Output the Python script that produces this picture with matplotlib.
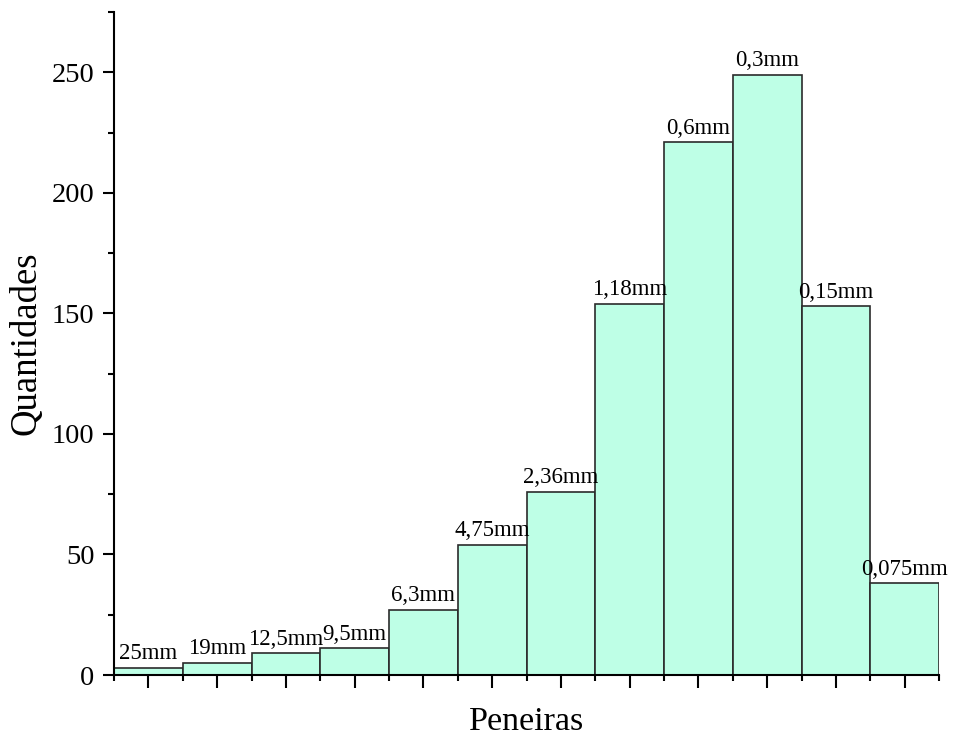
import matplotlib
matplotlib.use("Agg")
import matplotlib.pyplot as plt
from matplotlib.ticker import MultipleLocator, FixedLocator
import numpy as np

# Sieve openings and retained quantities
peneiras = ["25mm", "19mm", "12,5mm", "9,5mm", "6,3mm", "4,75mm", "2,36mm",
            "1,18mm", "0,6mm", "0,3mm", "0,15mm", "0,075mm"]
quantidades = [3, 5, 9, 11, 27, 54, 76, 154, 221, 249, 153, 38]

plt.rcParams["font.family"] = ["Liberation Serif", "DejaVu Serif"]

fig = plt.figure(figsize=(9.55, 7.39), dpi=100)
ax = fig.add_axes([0.1194, 0.0866, 0.8639, 0.8972])

x = np.arange(len(peneiras))
bars = ax.bar(x, quantidades, width=1.0, color="#BEFFE6",
              edgecolor="#2b2b2b", linewidth=1.2, zorder=2)

for xi, val, lab in zip(x, quantidades, peneiras):
    ax.annotate(lab, (xi, val), xytext=(0, 2.5), textcoords="offset points",
                ha="center", va="bottom", fontsize=16.5, color="black")

ax.set_xlim(-0.5, len(peneiras) - 0.5)
ax.set_ylim(0, 275)

ax.yaxis.set_major_locator(MultipleLocator(50))
ax.yaxis.set_minor_locator(MultipleLocator(25))
ax.xaxis.set_major_locator(FixedLocator(x))
ax.xaxis.set_minor_locator(FixedLocator(np.arange(len(peneiras) + 1) - 0.5))
ax.set_xticklabels([])

ax.tick_params(axis="y", which="major", direction="out", length=8, width=1.5,
               labelsize=20.5, pad=6)
ax.tick_params(axis="y", which="minor", direction="out", length=4, width=1.5)
ax.tick_params(axis="x", which="major", direction="out", length=9, width=1.5)
ax.tick_params(axis="x", which="minor", direction="out", length=4, width=1.5)

for side in ("top", "right"):
    ax.spines[side].set_visible(False)
for side in ("left", "bottom"):
    ax.spines[side].set_linewidth(1.5)

ax.set_ylabel("Quantidades", fontsize=26.5, labelpad=6)
ax.set_xlabel("Peneiras", fontsize=24.5, labelpad=10)

fig.savefig("out.png", dpi=100)
